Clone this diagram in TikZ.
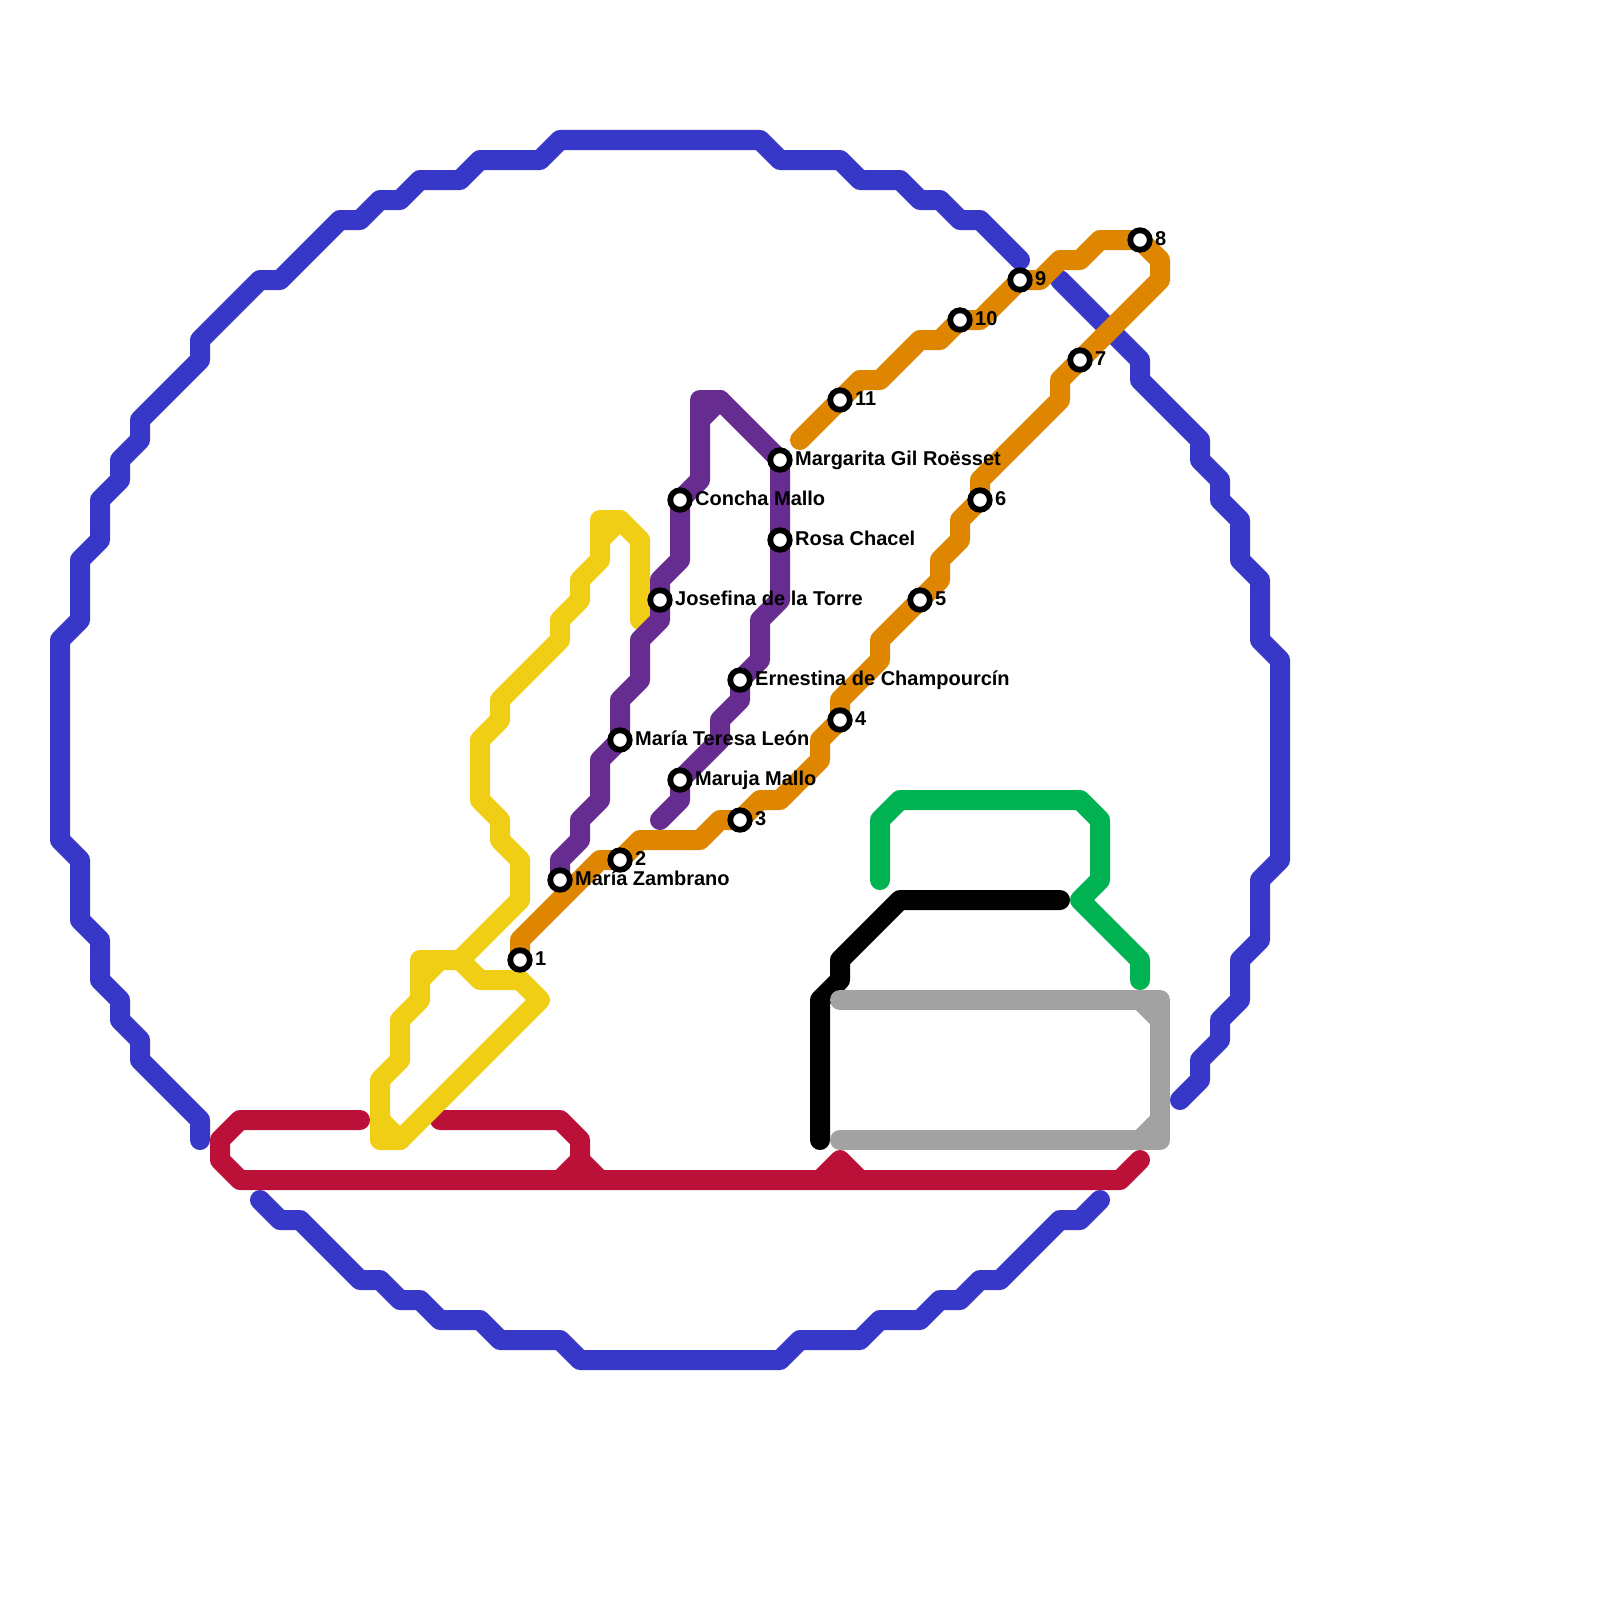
\documentclass[tikz,border=0pt]{standalone}
\usepackage{fontspec}
\setmainfont{Liberation Sans}
\definecolor{cblue}{HTML}{3737C8}
\definecolor{cred}{HTML}{BB1139}
\definecolor{cyellow}{HTML}{F0CE15}
\definecolor{corange}{HTML}{DF8600}
\definecolor{cpurple}{HTML}{662C90}
\definecolor{cgreen}{HTML}{00B251}
\definecolor{cgray}{HTML}{A2A2A2}
\tikzset{
  route/.style={line width=20pt,line cap=round,line join=round},
  stopdot/.style={circle,draw=black,fill=white,line width=5.8pt,minimum size=19.5pt,inner sep=0pt,outer sep=0pt},
  lbl/.style={anchor=base west,inner sep=0pt,font=\fontsize{20}{22}\selectfont\bfseries,text=black}
}
\begin{document}
\begin{tikzpicture}[x=20pt,y=-20pt]
\useasboundingbox (0,0) rectangle (80,80);
\fill[white] (0,0) rectangle (80,80);
% stop positions
\coordinate (p1) at (26,48);
\coordinate (p2) at (31,43);
\coordinate (p3) at (37,41);
\coordinate (p4) at (42,36);
\coordinate (p5) at (46,30);
\coordinate (p6) at (49,25);
\coordinate (p7) at (54,18);
\coordinate (p8) at (57,12);
\coordinate (p9) at (51,14);
\coordinate (p10) at (48,16);
\coordinate (p11) at (42,20);
\coordinate (pMa) at (39,23);
\coordinate (pRo) at (39,27);
\coordinate (pCo) at (34,25);
\coordinate (pJo) at (33,30);
\coordinate (pEr) at (37,34);
\coordinate (pMT) at (31,37);
\coordinate (pMM) at (34,39);
\coordinate (pMZ) at (28,44);
% blue ring
\draw[route,cblue] (10,57)--(10,56)--(7,53)--(7,52)--(6,51)--(6,50)--(5,49)--(5,47)--(4,46)--(4,43)--(3,42)--(3,32)--(4,31)--(4,28)--(5,27)--(5,25)--(6,24)--(6,23)--(7,22)--(7,21)--(10,18)--(10,17)--(13,14)--(14,14)--(17,11)--(18,11)--(19,10)--(20,10)--(21,9)--(23,9)--(24,8)--(27,8)--(28,7)--(38,7)--(39,8)--(42,8)--(43,9)--(45,9)--(46,10)--(47,10)--(48,11)--(49,11)--(51,13);
\draw[route,cblue] (53,14)--(57,18)--(57,19)--(60,22)--(60,23)--(61,24)--(61,25)--(62,26)--(62,28)--(63,29)--(63,32)--(64,33)--(64,43)--(63,44)--(63,47)--(62,48)--(62,50)--(61,51)--(61,52)--(60,53)--(60,54)--(59,55);
\draw[route,cblue] (13,60)--(14,61)--(15,61)--(18,64)--(19,64)--(20,65)--(21,65)--(22,66)--(24,66)--(25,67)--(28,67)--(29,68)--(39,68)--(40,67)--(43,67)--(44,66)--(46,66)--(47,65)--(48,65)--(49,64)--(50,64)--(53,61)--(54,61)--(55,60);
% red
\draw[route,cred] (18,56)--(12,56)--(11,57)--(11,58)--(12,59)--(56,59)--(57,58);
\draw[route,cred] (22,56)--(28,56)--(29,57)--(29,58)--(30,59);
\draw[route,cred] (29,58)--(28,59);
\draw[route,cred] (41,59)--(42,58)--(43,59);
% yellow
\draw[route,cyellow] (32,31)--(32,27)--(31,26)--(30,26)--(30,28)--(29,29)--(29,30)--(28,31)--(28,32)--(25,35)--(25,36)--(24,37)--(24,40)--(25,41)--(25,42)--(26,43)--(26,45)--(23,48)--(21,48)--(21,50)--(20,51)--(20,53)--(19,54)--(19,57)--(20,57)--(27,50)--(26,49)--(24,49)--(23,48);
\draw[route,cyellow] (31,26)--(30,27);
\draw[route,cyellow] (22,48)--(21,49);
\draw[route,cyellow] (19,56)--(20,57);
% orange
\draw[route,corange] (p1)--(26,47)--(30,43)--(p2)--(32,42)--(35,42)--(36,41)--(p3)--(38,40)--(39,40)--(41,38)--(41,37)--(p4)--(42,35)--(44,33)--(44,32)--(p5)--(47,29)--(47,28)--(48,27)--(48,26)--(p6)--(49,24)--(53,20)--(53,19)--(p7)--(58,14)--(58,13)--(p8)--(55,12)--(54,13)--(53,13)--(52,14)--(p9)--(49,16)--(p10)--(47,17)--(46,17)--(44,19)--(43,19)--(p11)--(40,22);
% purple
\draw[route,cpurple] (33,41)--(34,40)--(pMM)--(36,37)--(36,36)--(37,35)--(pEr)--(38,33)--(38,31)--(39,30)--(pRo)--(pMa)--(36,20)--(35,20)--(35,24)--(pCo)--(34,28)--(33,29)--(pJo)--(33,31)--(32,32)--(32,34)--(31,35)--(pMT)--(30,38)--(30,40)--(29,41)--(29,42)--(28,43)--(pMZ);
\draw[route,cpurple] (35,21)--(36,20);
% green
\draw[route,cgreen] (44,44)--(44,41)--(45,40)--(54,40)--(55,41)--(55,44)--(54,45)--(57,48)--(57,49);
% black
\draw[route,black] (41,57)--(41,50)--(42,49)--(42,48)--(45,45)--(53,45);
% gray
\draw[route,cgray] (42,50)--(58,50)--(58,57)--(42,57);
\draw[route,cgray] (57,50)--(58,51);
\draw[route,cgray] (57,57)--(58,56);
% stops
\foreach \s in {1,...,11,Ma,Ro,Co,Jo,Er,MT,MM,MZ}{\node[stopdot] (s\s) at (p\s) {};}
% labels
\node[lbl] (l1) at ([shift={(15pt,-5pt)}]s1.center) {1};
\node[lbl] (l2) at ([shift={(15pt,-5pt)}]s2.center) {2};
\node[lbl] (l3) at ([shift={(15pt,-5pt)}]s3.center) {3};
\node[lbl] (l4) at ([shift={(15pt,-5pt)}]s4.center) {4};
\node[lbl] (l5) at ([shift={(15pt,-5pt)}]s5.center) {5};
\node[lbl] (l6) at ([shift={(15pt,-5pt)}]s6.center) {6};
\node[lbl] (l7) at ([shift={(15pt,-5pt)}]s7.center) {7};
\node[lbl] (l8) at ([shift={(15pt,-5pt)}]s8.center) {8};
\node[lbl] (l9) at ([shift={(15pt,-5pt)}]s9.center) {9};
\node[lbl] (l10) at ([shift={(15pt,-5pt)}]s10.center) {10};
\node[lbl] (l11) at ([shift={(15pt,-5pt)}]s11.center) {11};
\node[lbl] (lMa) at ([shift={(15pt,-5pt)}]sMa.center) {Margarita Gil Roësset};
\node[lbl] (lRo) at ([shift={(15pt,-5pt)}]sRo.center) {Rosa Chacel};
\node[lbl] (lCo) at ([shift={(15pt,-5pt)}]sCo.center) {Concha Mallo};
\node[lbl] (lJo) at ([shift={(15pt,-5pt)}]sJo.center) {Josefina de la Torre};
\node[lbl] (lEr) at ([shift={(15pt,-5pt)}]sEr.center) {Ernestina de Champourcín};
\node[lbl] (lMT) at ([shift={(15pt,-5pt)}]sMT.center) {María Teresa León};
\node[lbl] (lMM) at ([shift={(15pt,-5pt)}]sMM.center) {Maruja Mallo};
\node[lbl] (lMZ) at ([shift={(15pt,-5pt)}]sMZ.center) {María Zambrano};
\end{tikzpicture}
\end{document}
